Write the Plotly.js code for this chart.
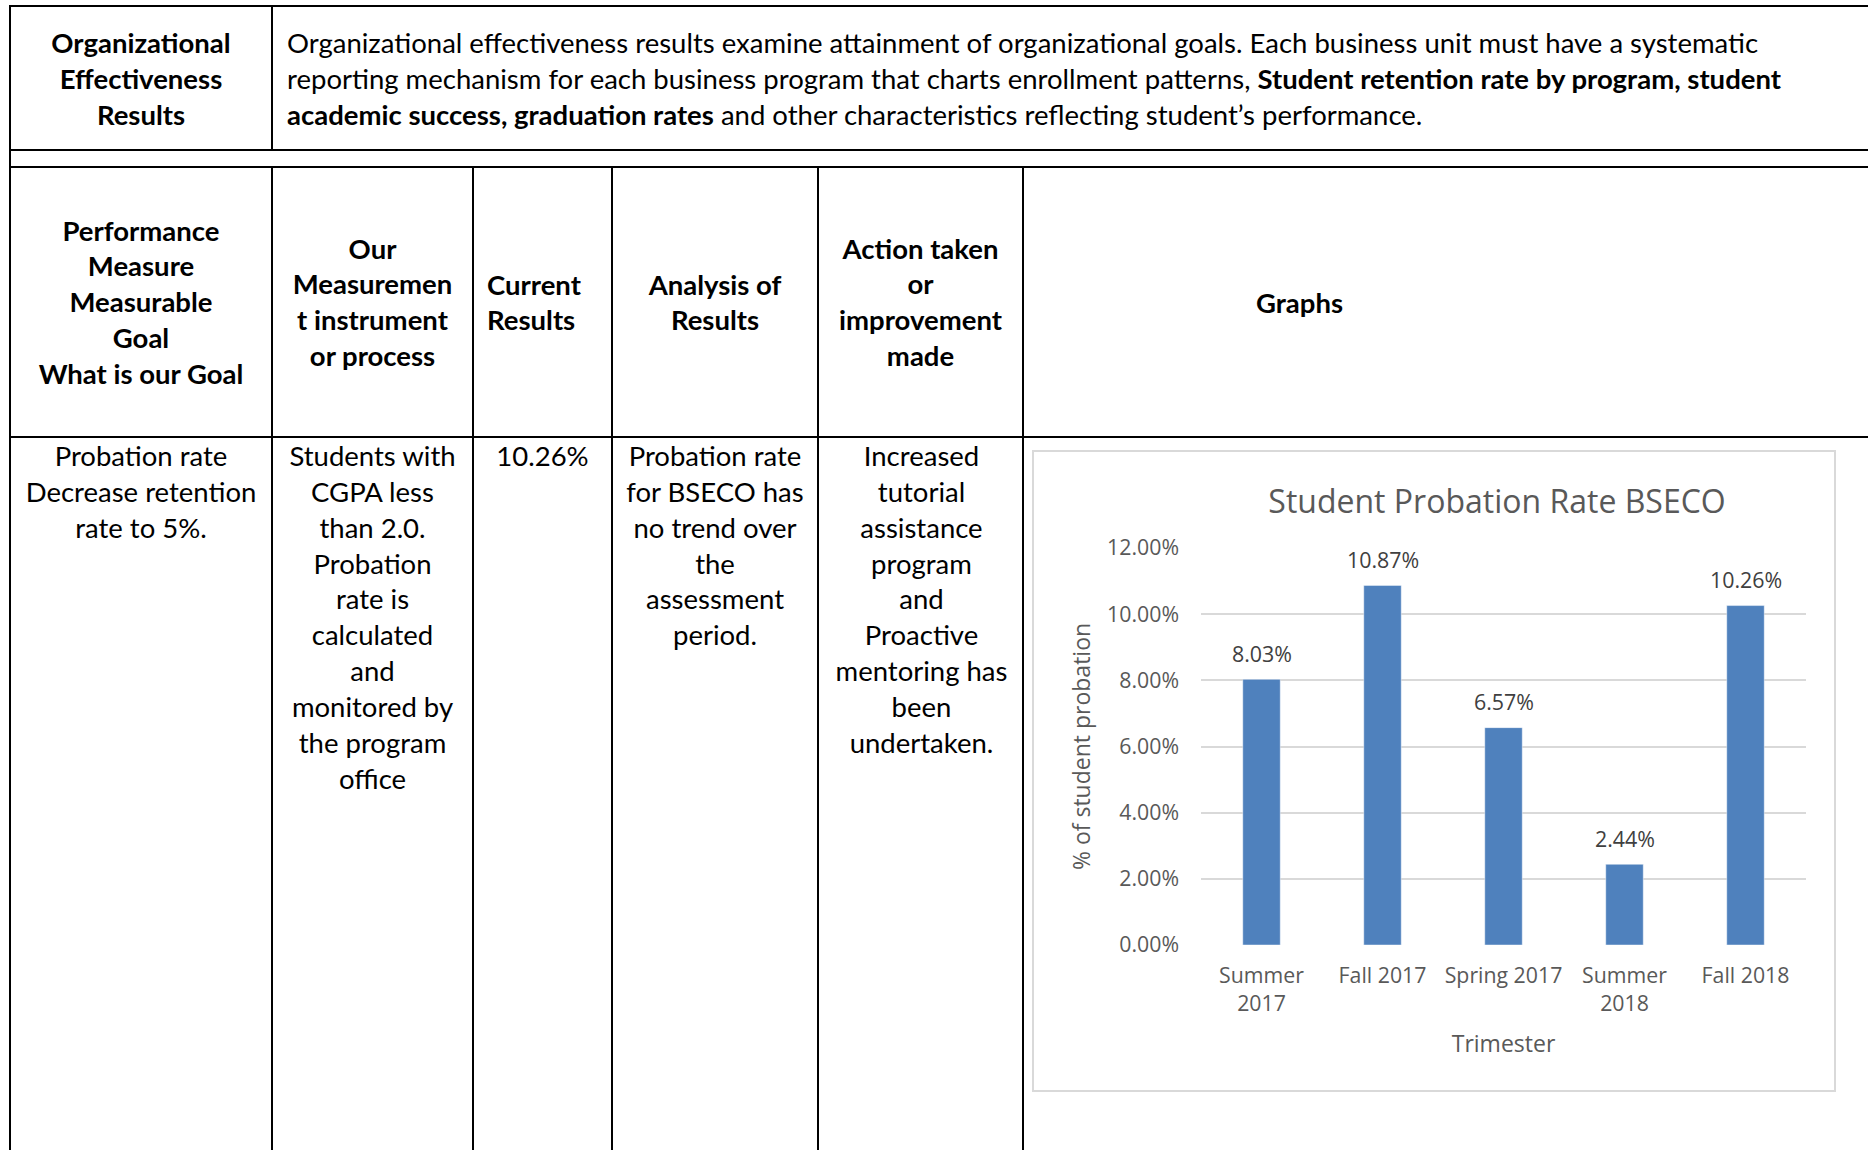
<!DOCTYPE html>
<html>
<head>
<meta charset="utf-8">
<script src="https://cdn.plot.ly/plotly-3.0.1.min.js"></script>
<style>
  html, body { margin: 0; padding: 0; background: #ffffff; }
  body { width: 1868px; height: 1150px; position: relative; overflow: hidden; font-family: Lato, "Open Sans", sans-serif; color: #000; }
  .ln { position: absolute; background: #000; }
  .tx { position: absolute; white-space: nowrap; font-size: 27.5px; line-height: 35.9px; }
  .c { text-align: center; width: 400px; }
  .b { font-weight: bold; }
  #chartBox { position: absolute; left: 1032px; top: 450px; width: 804px; height: 642px; }
  #chartFrame { position: absolute; left: 1032px; top: 450px; width: 804px; height: 642px; border: 2px solid #d9d9d9; box-sizing: border-box; pointer-events: none; }
</style>
</head>
<body>
<div id="table"></div>
<div id="chartBox"></div>
<div id="chartFrame"></div>
<script>
// ---------------- chart data ----------------
const categories = ['Summer 2017', 'Fall 2017', 'Spring 2017', 'Summer 2018', 'Fall 2018'];
const tickLabels = ['Summer<br>2017', 'Fall 2017', 'Spring 2017', 'Summer<br>2018', 'Fall 2018'];
const probationRate = [0.0803, 0.1087, 0.0657, 0.0244, 0.1026];
const chartTitle = 'Student Probation Rate BSECO';
const xTitle = 'Trimester';
const yTitle = '% of student probation';

// ---------------- table text ----------------
const topLabel = ['Organizational', 'Effectiveness', 'Results'];
const topParagraph = [
  'Organizational effectiveness results examine attainment of organizational goals. Each business unit must have a systematic',
  'reporting mechanism for each business program that charts enrollment patterns, <b>Student retention rate by program, student</b>',
  '<b>academic success, graduation rates</b> and other characteristics reflecting student\u2019s performance.'
];
const headGoal = ['Performance', 'Measure', 'Measurable', 'Goal', 'What is our Goal'];
const headInstrument = ['Our', 'Measuremen', 't instrument', 'or process'];
const headCurrent = ['Current', 'Results'];
const headAnalysis = ['Analysis of', 'Results'];
const headAction = ['Action taken', 'or', 'improvement', 'made'];
const headGraphs = ['Graphs'];
const cellGoal = ['Probation rate', 'Decrease retention', 'rate to 5%.'];
const cellInstrument = ['Students with', 'CGPA less', 'than 2.0.', 'Probation', 'rate is', 'calculated', 'and', 'monitored by', 'the program', 'office'];
const cellCurrent = ['10.26%'];
const cellAnalysis = ['Probation rate', 'for BSECO has', 'no trend over', 'the', 'assessment', 'period.'];
const cellAction = ['Increased', 'tutorial', 'assistance', 'program', 'and', 'Proactive', 'mentoring has', 'been', 'undertaken.'];

// ---------------- table drawing ----------------
const table = document.getElementById('table');
function line(x, y, w, h) {
  const d = document.createElement('div');
  d.className = 'ln';
  d.style.left = x + 'px'; d.style.top = y + 'px';
  d.style.width = w + 'px'; d.style.height = h + 'px';
  table.appendChild(d);
}
// horizontal rules
line(9, 5, 1859, 2);
line(9, 149, 1859, 2);
line(9, 166, 1859, 2);
line(9, 436, 1859, 2);
// vertical rules
line(9, 5, 2, 1145);
line(271, 5, 2, 146);
[271, 472, 611, 817, 1022].forEach(x => line(x, 166, 2, 984));

function block(lines, x, firstCenter, opts) {
  const d = document.createElement('div');
  d.className = 'tx' + (opts.center ? ' c' : '') + (opts.bold ? ' b' : '');
  d.innerHTML = lines.join('<br>');
  d.style.top = (firstCenter - 17) + 'px';
  d.style.left = (opts.center ? x - 200 : x) + 'px';
  table.appendChild(d);
}
block(topLabel, 141, 42.1, {center: true, bold: true});
block(topParagraph, 287, 42.1, {center: false, bold: false});
block(headGoal, 141, 229.5, {center: true, bold: true});
block(headInstrument, 372.5, 247.5, {center: true, bold: true});
block(headCurrent, 487, 283.5, {center: false, bold: true});
block(headAnalysis, 715, 283.5, {center: true, bold: true});
block(headAction, 920.5, 247.5, {center: true, bold: true});
block(headGraphs, 1299.5, 301.5, {center: true, bold: true});
block(cellGoal, 141, 454.8, {center: true});
block(cellInstrument, 372.5, 454.8, {center: true});
block(cellCurrent, 542.5, 454.8, {center: true});
block(cellAnalysis, 715, 454.8, {center: true});
block(cellAction, 921.5, 454.8, {center: true});

// ---------------- chart ----------------
const labelAnnotations = categories.map((c, i) => ({
  x: c, y: probationRate[i], xref: 'x', yref: 'y',
  text: (probationRate[i] * 100).toFixed(2) + '%',
  showarrow: false, yanchor: 'middle', yshift: 26,
  font: {family: 'Open Sans', size: 21.4, color: '#404040'}
}));

const trace = {
  type: 'bar',
  x: categories,
  y: probationRate,
  marker: {color: '#4F81BD', line: {color: 'rgba(255,255,255,0.45)', width: 1}},
  hoverinfo: 'x+y'
};

const layout = {
  width: 804, height: 642,
  margin: {l: 169, r: 30, t: 98, b: 147, pad: 0},
  paper_bgcolor: 'rgba(0,0,0,0)',
  plot_bgcolor: '#ffffff',
  font: {family: 'Open Sans', color: '#595959', size: 21.3},
  showlegend: false,
  bargap: 0.69,
  title: {
    text: chartTitle,
    font: {family: 'Open Sans', size: 32, color: '#595959'},
    xref: 'container', x: 0.5784, xanchor: 'center',
    yref: 'container', y: 0.919, yanchor: 'middle'
  },
  xaxis: {
    type: 'category',
    tickmode: 'array', tickvals: categories, ticktext: tickLabels,
    showgrid: false, showline: false, zeroline: false, ticks: '',
    tickfont: {size: 21.3, color: '#595959'},
    ticklabelstandoff: 16,
    automargin: false,
    title: {text: xTitle, font: {size: 23, color: '#595959'}, standoff: 19}
  },
  yaxis: {
    range: [0, 0.12], dtick: 0.02, tick0: 0, tickformat: '.2%',
    showgrid: true, gridcolor: '#d9d9d9', gridwidth: 2,
    zeroline: false, showline: false, ticks: '',
    tickfont: {size: 21.3, color: '#595959'},
    ticklabelstandoff: 21,
    automargin: false,
    title: {text: yTitle, font: {size: 23, color: '#595959'}, standoff: 10}
  },
  annotations: labelAnnotations
};

Plotly.newPlot('chartBox', [trace], layout, {displayModeBar: false, staticPlot: true});
</script>
</body>
</html>
